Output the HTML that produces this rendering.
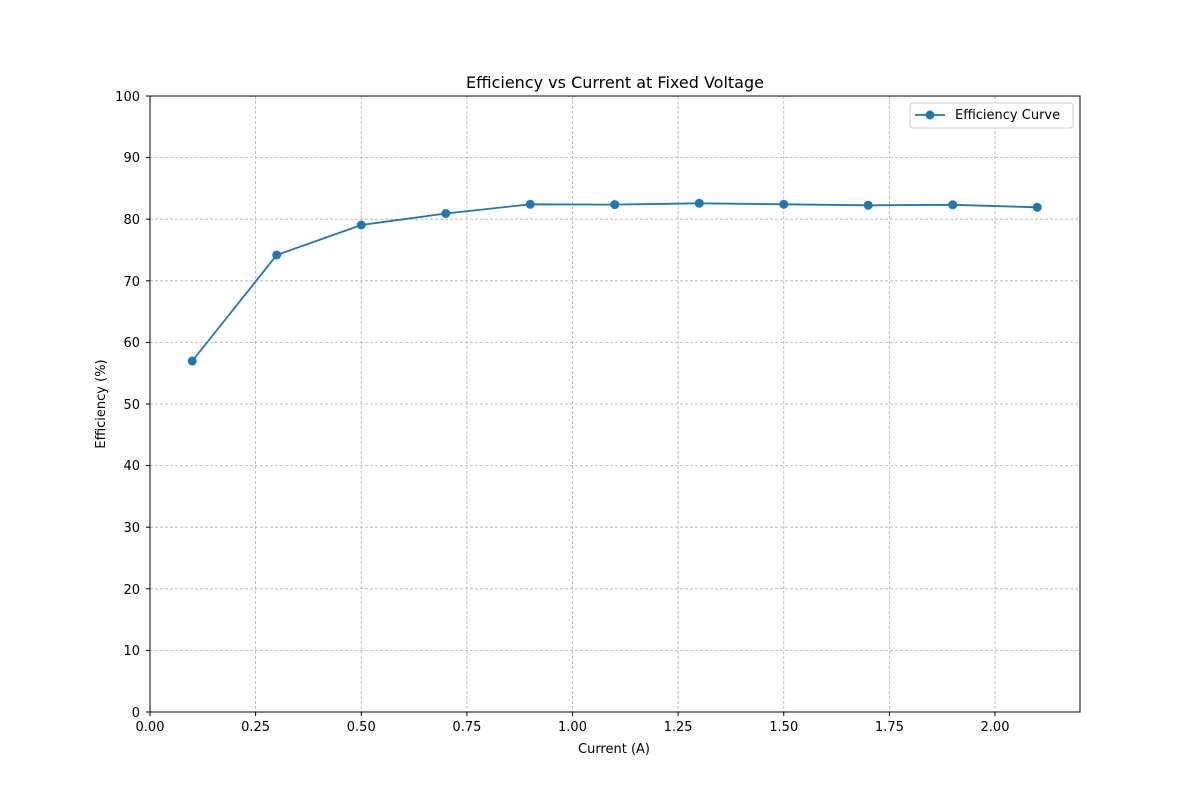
<!DOCTYPE html>
<html><head><meta charset="utf-8"><style>body{margin:0;background:#fff}svg{display:block}text{font-family:"DejaVu Sans","Liberation Sans",sans-serif;fill:#000}</style></head><body>
<svg width="1200" height="800" xmlns="http://www.w3.org/2000/svg">
<rect width="1200" height="800" fill="#fff"/>
<g stroke="#b0b0b0" stroke-width="0.8" stroke-dasharray="3,2">
<line x1="150" y1="96" x2="150" y2="712"/><line x1="255.6" y1="96" x2="255.6" y2="712"/><line x1="361.25" y1="96" x2="361.25" y2="712"/><line x1="466.9" y1="96" x2="466.9" y2="712"/><line x1="572.5" y1="96" x2="572.5" y2="712"/><line x1="678.1" y1="96" x2="678.1" y2="712"/><line x1="783.75" y1="96" x2="783.75" y2="712"/><line x1="889.4" y1="96" x2="889.4" y2="712"/><line x1="995" y1="96" x2="995" y2="712"/>
<line x1="150" y1="650.4" x2="1080" y2="650.4"/><line x1="150" y1="588.8" x2="1080" y2="588.8"/><line x1="150" y1="527.2" x2="1080" y2="527.2"/><line x1="150" y1="465.6" x2="1080" y2="465.6"/><line x1="150" y1="404" x2="1080" y2="404"/><line x1="150" y1="342.4" x2="1080" y2="342.4"/><line x1="150" y1="280.8" x2="1080" y2="280.8"/><line x1="150" y1="219.2" x2="1080" y2="219.2"/><line x1="150" y1="157.6" x2="1080" y2="157.6"/>
</g>
<rect x="150" y="96" width="930" height="616" fill="none" stroke="#000" stroke-width="1"/>
<g stroke="#000"><line x1="150" y1="712" x2="150" y2="716"/><line x1="255.6" y1="712" x2="255.6" y2="716"/><line x1="361.25" y1="712" x2="361.25" y2="716"/><line x1="466.9" y1="712" x2="466.9" y2="716"/><line x1="572.5" y1="712" x2="572.5" y2="716"/><line x1="678.1" y1="712" x2="678.1" y2="716"/><line x1="783.75" y1="712" x2="783.75" y2="716"/><line x1="889.4" y1="712" x2="889.4" y2="716"/><line x1="995" y1="712" x2="995" y2="716"/>
<line x1="146" y1="712" x2="150" y2="712"/><line x1="146" y1="650.4" x2="150" y2="650.4"/><line x1="146" y1="588.8" x2="150" y2="588.8"/><line x1="146" y1="527.2" x2="150" y2="527.2"/><line x1="146" y1="465.6" x2="150" y2="465.6"/><line x1="146" y1="404" x2="150" y2="404"/><line x1="146" y1="342.4" x2="150" y2="342.4"/><line x1="146" y1="280.8" x2="150" y2="280.8"/><line x1="146" y1="219.2" x2="150" y2="219.2"/><line x1="146" y1="157.6" x2="150" y2="157.6"/><line x1="146" y1="96" x2="150" y2="96"/></g>
<g font-size="13" text-anchor="middle">
<text x="150" y="731">0.00</text><text x="255.6" y="731">0.25</text><text x="361.25" y="731">0.50</text><text x="466.9" y="731">0.75</text><text x="572.5" y="731">1.00</text><text x="678.1" y="731">1.25</text><text x="783.75" y="731">1.50</text><text x="889.4" y="731">1.75</text><text x="995" y="731">2.00</text>
<text x="614" y="753">Current (A)</text>
</g>
<g font-size="13" text-anchor="end">
<text x="140" y="717">0</text><text x="140" y="655">10</text><text x="140" y="594">20</text><text x="140" y="532">30</text><text x="140" y="470">40</text><text x="140" y="409">50</text><text x="140" y="347">60</text><text x="140" y="286">70</text><text x="140" y="224">80</text><text x="140" y="162">90</text><text x="140" y="101">100</text>
</g>
<text transform="translate(105,404) rotate(-90)" font-size="13" text-anchor="middle">Efficiency (%)</text>
<text x="615" y="88" font-size="16" text-anchor="middle">Efficiency vs Current at Fixed Voltage</text>
<polyline fill="none" stroke="#1f77b4" stroke-width="1.8" points="192.25,361 276.75,255 361.25,225 445.75,213.5 530.25,204.3 614.75,204.6 699.25,203.3 783.75,204.3 868.25,205.3 952.75,204.8 1037.25,207.3"/>
<g fill="#1f77b4"><circle cx="192.25" cy="361" r="4.5"/><circle cx="276.75" cy="255" r="4.5"/><circle cx="361.25" cy="225" r="4.5"/><circle cx="445.75" cy="213.5" r="4.5"/><circle cx="530.25" cy="204.3" r="4.5"/><circle cx="614.75" cy="204.6" r="4.5"/><circle cx="699.25" cy="203.3" r="4.5"/><circle cx="783.75" cy="204.3" r="4.5"/><circle cx="868.25" cy="205.3" r="4.5"/><circle cx="952.75" cy="204.8" r="4.5"/><circle cx="1037.25" cy="207.3" r="4.5"/></g>
<rect x="910" y="103" width="163" height="25" rx="3" fill="#fff" stroke="#ccc"/>
<line x1="915" y1="115" x2="945" y2="115" stroke="#1f77b4" stroke-width="1.8"/><circle cx="930" cy="115" r="4.5" fill="#1f77b4"/>
<text x="955" y="119" font-size="13">Efficiency Curve</text>
</svg>
</body></html>
